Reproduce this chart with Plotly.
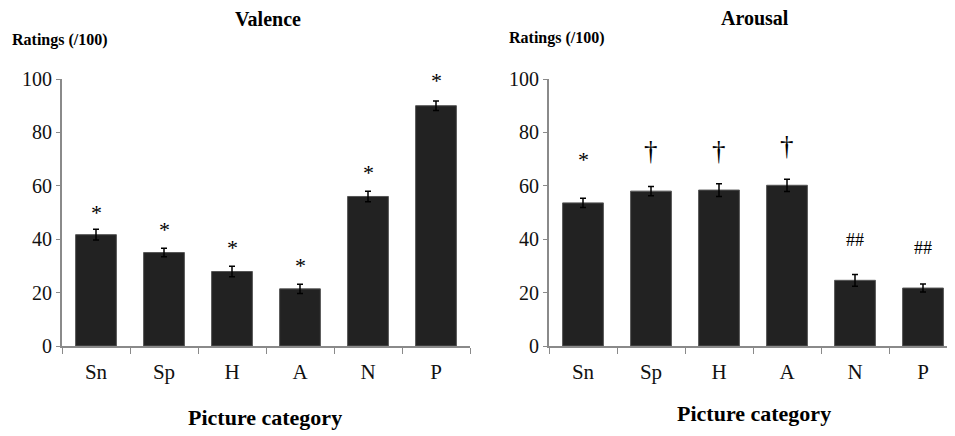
import plotly.graph_objects as go

categories = ["Sn", "Sp", "H", "A", "N", "P"]
valence = [41.7, 35.0, 27.9, 21.4, 56.0, 90.0]
valence_err = [2.0, 1.6, 2.0, 1.7, 2.0, 1.8]
valence_marks = ["*", "*", "*", "*", "*", "*"]
valence_mark_y = [50.0, 43.6, 37.0, 30.0, 65.0, 99.6]
arousal = [53.6, 58.0, 58.4, 60.2, 24.6, 21.7]
arousal_err = [1.7, 1.7, 2.4, 2.3, 2.2, 1.5]
arousal_marks = ["*", "†", "†", "†", "##", "##"]
arousal_mark_y = [69.7, 73.0, 73.2, 75.0, 39.7, 36.7]
y_ticks = [0, 20, 40, 60, 80, 100]

W, H = 955, 436
OFF = 8  # page body margin offset
FONT = "Liberation Serif"
BAR = "#222222"
AXIS = "#8a8a8a"
MARK_SIZE = {"*": 22, "†": 27, "##": 18}

fig = go.Figure()
for vals, errs, xa, ya in [(valence, valence_err, "x", "y"), (arousal, arousal_err, "x2", "y2")]:
    fig.add_trace(go.Bar(
        x=categories, y=vals, xaxis=xa, yaxis=ya,
        marker=dict(color=BAR, line=dict(color="#555555", width=1)),
        error_y=dict(type="data", array=errs, visible=True, color="#000000",
                     thickness=1.5, width=3),
        showlegend=False, hoverinfo="skip",
    ))

annotations = []
for marks, ys, xr, yr in [(valence_marks, valence_mark_y, "x", "y"),
                          (arousal_marks, arousal_mark_y, "x2", "y2")]:
    for c, m, yv in zip(categories, marks, ys):
        annotations.append(dict(x=c, y=yv, xref=xr, yref=yr, text=m, showarrow=False,
                                font=dict(family=FONT, size=MARK_SIZE[m], color="#000000"),
                                xanchor="center", yanchor="middle"))

def px(xp, yp):
    return (xp - OFF) / W, 1 - (yp - OFF) / H

for text, xp, yp, size in [("<b>Valence</b>", 268, 19, 20), ("<b>Arousal</b>", 755, 18, 20),
                           ("<b>Picture category</b>", 265, 417, 22), ("<b>Picture category</b>", 754, 413, 22)]:
    xx, yy = px(xp, yp)
    annotations.append(dict(x=xx, y=yy, xref="paper", yref="paper", text=text, showarrow=False,
                            font=dict(family=FONT, size=size, color="#000000"), borderpad=0,
                            xanchor="center", yanchor="middle"))
for xp, yp in [(10, 40), (507, 38)]:
    xx, yy = px(xp, yp)
    annotations.append(dict(x=xx, y=yy, xref="paper", yref="paper", text="<b>Ratings (/100)</b>",
                            showarrow=False, font=dict(family=FONT, size=16, color="#000000"),
                            xanchor="left", yanchor="middle"))

ydom = [1 - (346 - OFF) / H, 1 - (79 - OFF) / H]
xcommon = dict(type="category", tickson="boundaries", ticks="outside", ticklen=6, tickcolor=AXIS,
               showline=True, linecolor=AXIS, linewidth=2, showgrid=False, zeroline=False,
               range=[-0.5, 5.5], tickfont=dict(family=FONT, size=21, color="#111"),
               ticklabelstandoff=6, automargin=False)
ycommon = dict(range=[0, 100], tickvals=y_ticks, ticks="outside", ticklen=4, tickcolor=AXIS,
               showline=True, linecolor=AXIS, linewidth=2, showgrid=False, zeroline=False,
               tickfont=dict(family=FONT, size=20, color="#111"), domain=ydom, automargin=False)

fig.update_layout(
    width=W, height=H, margin=dict(l=0, r=0, t=0, b=0, autoexpand=False),
    paper_bgcolor="white", plot_bgcolor="white", bargap=0.4,
    xaxis=dict(domain=[(62 - OFF) / W, (470 - OFF) / W], anchor="y", **xcommon),
    yaxis=dict(anchor="x", **ycommon),
    xaxis2=dict(domain=[(549 - OFF) / W, (957 - OFF) / W], anchor="y2", **xcommon),
    yaxis2=dict(anchor="x2", **ycommon),
    annotations=annotations,
)
fig.write_html("out.html")
